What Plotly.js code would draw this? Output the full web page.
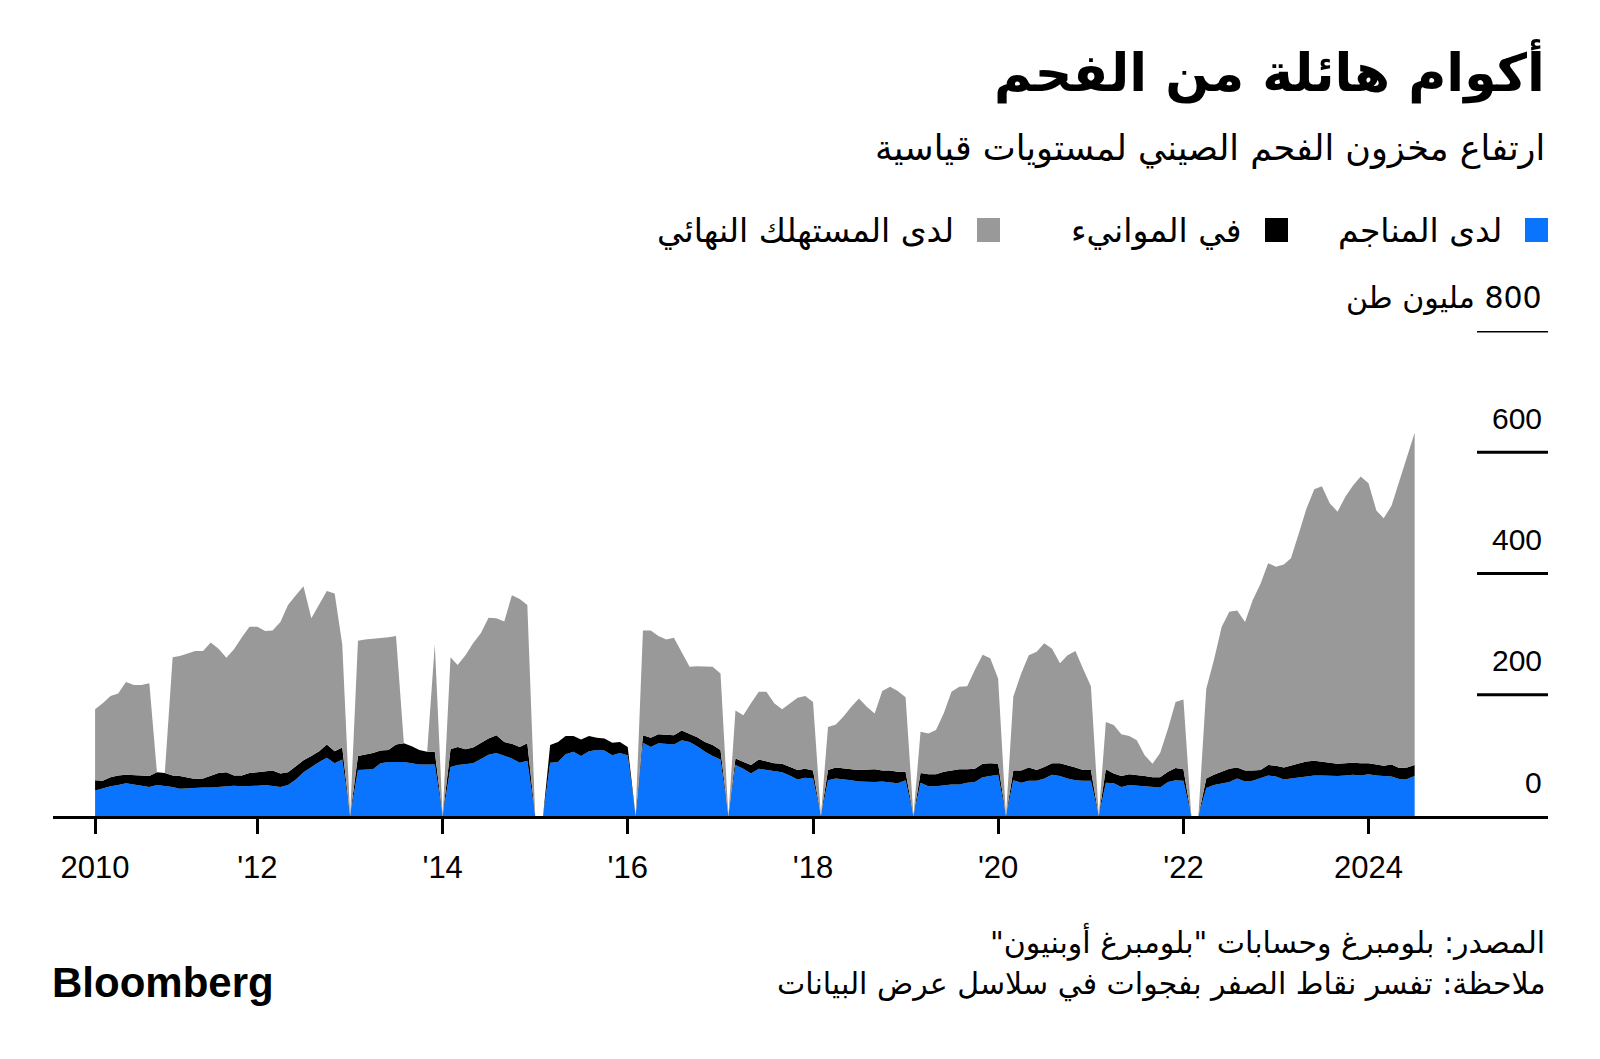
<!DOCTYPE html>
<html>
<head>
<meta charset="utf-8">
<script src="https://cdn.plot.ly/plotly-3.0.1.min.js"></script>
<style>
  html, body { margin: 0; padding: 0; background: #ffffff; }
  #chart { width: 1600px; height: 1059px; }
</style>
</head>
<body>
<div id="chart"></div>
<script>
// ---------------- DATA (million tonnes, monthly, Apr 2010 – Jul 2024) ----------------
const firstYear = 2010;
const firstMonth = 4; // April 2010

// Inventories at mines (blue)
const mines2010 = [42, 46, 49, 51, 54, 52, 50, 48, 51];
const mines2011 = [50, 48, 45, 46, 47, 47, 47, 48, 50, 50, 49, 49];
const mines2012 = [50, 51, 49, 48, 51, 60, 72, 81, 89, 96, 87, 93];
const mines2013 = [0, 76, 76, 77, 87, 89, 89, 89, 87, 85, 85, 85];
const mines2014 = [0, 81, 84, 86, 87, 94, 101, 104, 100, 95, 88, 91];
const mines2015 = [0, 0, 88, 89, 102, 106, 99, 107, 109, 108, 100, 104];
const mines2016 = [100, 0, 121, 114, 120, 119, 118, 125, 122, 115, 106, 99];
const mines2017 = [93, 0, 84, 78, 70, 78, 76, 73, 72, 67, 60, 63];
const mines2018 = [62, 0, 59, 62, 61, 59, 57, 56, 56, 57, 56, 54];
const mines2019 = [59, 0, 55, 49, 49, 51, 52, 52, 55, 56, 64, 66];
const mines2020 = [68, 0, 59, 55, 58, 58, 62, 68, 66, 62, 59, 58];
const mines2021 = [58, 0, 55, 54, 48, 51, 50, 49, 47, 47, 56, 59];
const mines2022 = [58, 0, 0, 46, 51, 54, 56, 62, 57, 58, 62, 67];
const mines2023 = [65, 60, 62, 64, 66, 67, 67, 66, 66, 67, 68, 67];
const mines2024 = [69, 67, 66, 65, 61, 61, 66];

// Inventories at ports (black)
const ports2010 = [17, 12, 15, 16, 14, 16, 17, 18, 21];
const ports2011 = [21, 19, 21, 17, 14, 15, 19, 23, 22, 17, 18, 22];
const ports2012 = [22, 22, 26, 22, 21, 22, 20, 18, 18, 22, 20, 20];
const ports2013 = [0, 23, 25, 27, 21, 20, 29, 31, 28, 24, 21, 21];
const ports2014 = [0, 29, 30, 24, 26, 26, 27, 29, 22, 24, 26, 29];
const ports2015 = [0, 0, 29, 33, 30, 26, 27, 25, 20, 20, 21, 18];
const ports2016 = [14, 0, 12, 15, 15, 15, 15, 16, 14, 15, 16, 18];
const ports2017 = [16, 0, 11, 12, 14, 15, 14, 14, 14, 14, 16, 15];
const ports2018 = [13, 0, 17, 18, 17, 18, 19, 20, 21, 18, 19, 19];
const ports2019 = [14, 0, 16, 20, 20, 22, 23, 25, 22, 22, 22, 21];
const ports2020 = [18, 0, 16, 20, 22, 18, 19, 19, 21, 22, 21, 18];
const ports2021 = [18, 0, 22, 16, 18, 18, 18, 17, 17, 17, 17, 20];
const ports2022 = [19, 0, 0, 16, 17, 19, 22, 18, 18, 17, 14, 17];
const ports2023 = [18, 20, 21, 23, 24, 24, 22, 21, 20, 20, 20, 20];
const ports2024 = [18, 18, 17, 20, 18, 19, 18];

// Inventories at end users (grey)
const endUsers2010 = [117, 128, 134, 135, 153, 148, 149, 153, 0];
const endUsers2011 = [0, 195, 198, 205, 211, 210, 220, 205, 189, 208, 228, 241];
const endUsers2012 = [240, 232, 231, 250, 276, 282, 287, 227, 243, 253, 260, 170];
const endUsers2013 = [0, 190, 190, 188, 186, 186, 179, 0, 0, 0, 0, 177];
const endUsers2014 = [0, 152, 135, 155, 172, 182, 199, 193, 199, 245, 244, 228];
const endUsers2015 = [0, 0, 0, 0, 0, 0, 0, 0, 0, 0, 0, 0];
const endUsers2016 = [0, 0, 173, 177, 162, 157, 161, 130, 110, 117, 124, 129];
const endUsers2017 = [126, 0, 79, 76, 102, 112, 115, 99, 90, 105, 119, 120];
const endUsers2018 = [113, 0, 71, 71, 86, 103, 118, 104, 92, 131, 138, 133];
const endUsers2019 = [123, 0, 68, 67, 73, 97, 130, 136, 137, 163, 180, 173];
const endUsers2020 = [141, 0, 122, 160, 185, 195, 204, 189, 165, 181, 192, 167];
const endUsers2021 = [138, 0, 78, 80, 69, 63, 57, 34, 22, 40, 71, 109];
const endUsers2022 = [115, 0, 0, 148, 189, 239, 259, 259, 245, 281, 307, 333];
const endUsers2023 = [328, 335, 342, 379, 417, 448, 455, 429, 416, 439, 457, 473];
const endUsers2024 = [462, 419, 408, 427, 472, 515, 548];

// Axis ticks
const xTickVals = ['2010-04-01', '2012-01-01', '2014-01-01', '2016-01-01', '2018-01-01', '2020-01-01', '2022-01-01', '2024-01-01'];
const xTickText = ['2010', "'12", "'14", "'16", "'18", "'20", "'22", '2024'];
const yTickVals = [0, 200, 400, 600, 800];
const yTickText = ['0', '200', '400', '600', '800 مليون طن'];

// Texts
const seriesNames = ['لدى المناجم', 'في الموانيء', 'لدى المستهلك النهائي'];
const titleText = 'أكوام هائلة من الفحم';
const subtitleText = 'ارتفاع مخزون الفحم الصيني لمستويات قياسية';
const sourceText = 'المصدر: بلومبرغ وحسابات "بلومبرغ أوبنيون"';
const noteText = 'ملاحظة: تفسر نقاط الصفر بفجوات في سلاسل عرض البيانات';

// ---------------- BUILD ----------------
const mines = [].concat(mines2010, mines2011, mines2012, mines2013, mines2014, mines2015, mines2016,
  mines2017, mines2018, mines2019, mines2020, mines2021, mines2022, mines2023, mines2024);
const ports = [].concat(ports2010, ports2011, ports2012, ports2013, ports2014, ports2015, ports2016,
  ports2017, ports2018, ports2019, ports2020, ports2021, ports2022, ports2023, ports2024);
const endUsers = [].concat(endUsers2010, endUsers2011, endUsers2012, endUsers2013, endUsers2014, endUsers2015, endUsers2016,
  endUsers2017, endUsers2018, endUsers2019, endUsers2020, endUsers2021, endUsers2022, endUsers2023, endUsers2024);

const dates = mines.map((_, i) => {
  const idx = (firstMonth - 1) + i;
  const y = firstYear + Math.floor(idx / 12);
  const m = (idx % 12) + 1;
  return y + '-' + String(m).padStart(2, '0') + '-01';
});

const colors = ['#0a74ff', '#000000', '#999999'];
const rtl = s => '\u202B' + s + '\u202C';

const ARABIC = 'DejaVu Sans, sans-serif';
const LATIN = 'Liberation Sans, Arial, sans-serif';

// page geometry (pixels)
const PW = 1600, PH = 1059;
const ML = 53, MR = 52, MT = 331, MB = 243;
const W = PW - ML - MR, H = PH - MT - MB;
const px = x => (x - ML) / W;          // page px -> paper x
const py = y => (PH - MB - y) / H;     // page px -> paper y

const traces = [mines, ports, endUsers].map((vals, k) => ({
  type: 'scatter',
  mode: 'lines',
  x: dates,
  y: vals,
  name: seriesNames[k],
  stackgroup: 'one',
  line: { width: 0, shape: 'linear', color: colors[k] },
  fillcolor: colors[k],
  hoverinfo: 'skip'
}));

const shapes = [];
const annotations = [];

// y reference lines (short, on the right) + labels
yTickVals.forEach((v, i) => {
  if (v > 0) {
    shapes.push({
      type: 'line', xref: 'paper', yref: 'y',
      x0: px(1477), x1: 1, y0: v, y1: v,
      line: { color: '#000', width: 3 }
    });
  }
  const isArabic = /[\u0600-\u06FF]/.test(yTickText[i]);
  annotations.push({
    xref: 'paper', yref: 'y', x: px(1544), y: v,
    xanchor: 'right', yanchor: 'middle', yshift: 34,
    text: isArabic ? rtl(yTickText[i]) : yTickText[i],
    showarrow: false,
    font: { family: isArabic ? ARABIC : LATIN, size: 30, color: '#000' }
  });
});

// Title / subtitle
annotations.push({
  xref: 'paper', yref: 'paper', x: px(1547), y: py(72),
  xanchor: 'right', yanchor: 'middle', showarrow: false,
  text: '<b>' + rtl(titleText) + '</b>',
  font: { family: ARABIC, size: 52, color: '#000' }
});
annotations.push({
  xref: 'paper', yref: 'paper', x: px(1547), y: py(148),
  xanchor: 'right', yanchor: 'middle', showarrow: false,
  text: rtl(subtitleText),
  font: { family: ARABIC, size: 35, color: '#000' }
});

// Legend (RTL: swatch on the right of each label)
const legendSwatchRight = [1548, 1288, 1000];
legendSwatchRight.forEach((xr, k) => {
  shapes.push({
    type: 'rect', xref: 'paper', yref: 'paper',
    x0: px(xr - 23), x1: px(xr), y0: py(242), y1: py(218),
    fillcolor: colors[k], line: { width: 0 }
  });
  annotations.push({
    xref: 'paper', yref: 'paper', x: px(xr - 44), y: py(230),
    xanchor: 'right', yanchor: 'middle', showarrow: false,
    text: rtl(seriesNames[k]),
    font: { family: ARABIC, size: 33, color: '#000' }
  });
});

// Source / note
annotations.push({
  xref: 'paper', yref: 'paper', x: px(1547), y: py(941),
  xanchor: 'right', yanchor: 'middle', showarrow: false,
  text: rtl(sourceText),
  font: { family: ARABIC, size: 30, color: '#000' }
});
annotations.push({
  xref: 'paper', yref: 'paper', x: px(1547), y: py(984),
  xanchor: 'right', yanchor: 'middle', showarrow: false,
  text: rtl(noteText),
  font: { family: ARABIC, size: 30, color: '#000' }
});
// Bloomberg wordmark
annotations.push({
  xref: 'paper', yref: 'paper', x: px(50), y: py(982),
  xanchor: 'left', yanchor: 'middle', showarrow: false,
  text: '<b>Bloomberg</b>',
  font: { family: LATIN, size: 42, color: '#000' }
});

const layout = {
  width: PW, height: PH,
  margin: { l: ML, r: MR, t: MT, b: MB, pad: 0 },
  paper_bgcolor: '#ffffff',
  plot_bgcolor: '#ffffff',
  showlegend: false,
  xaxis: {
    type: 'date',
    range: ['2009-10-17', '2025-12-09'],
    tickmode: 'array',
    tickvals: xTickVals,
    ticktext: xTickText,
    ticks: 'outside',
    ticklen: 15,
    tickwidth: 3,
    tickcolor: '#000',
    showline: true,
    linecolor: '#000',
    linewidth: 3,
    showgrid: false,
    zeroline: false,
    ticklabelstandoff: 7,
    tickfont: { family: LATIN, size: 31, color: '#000' },
    fixedrange: true
  },
  yaxis: {
    range: [0, 800],
    showgrid: false,
    zeroline: false,
    showline: false,
    showticklabels: false,
    ticks: '',
    fixedrange: true
  },
  shapes: shapes,
  annotations: annotations
};

Plotly.newPlot('chart', traces, layout, { displayModeBar: false, staticPlot: true });
</script>
</body>
</html>
